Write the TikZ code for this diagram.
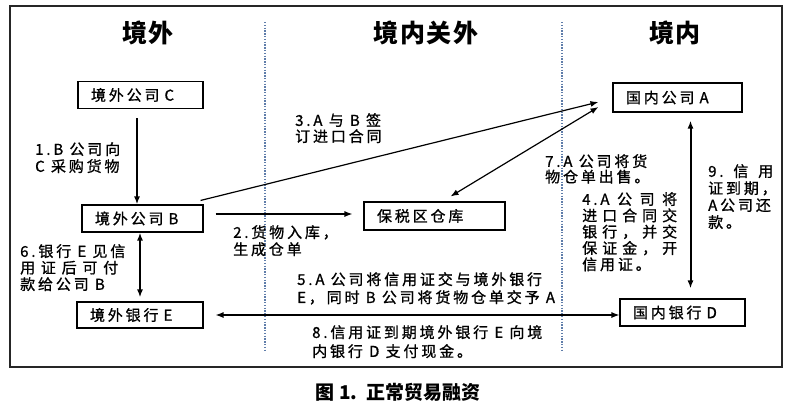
\documentclass[tikz,border=0pt]{standalone}
\usepackage{fontspec}
\setmainfont[LetterSpace=19,FakeBold=1]{Noto Sans CJK SC}
\newfontfamily\hdfont[LetterSpace=6]{Noto Sans CJK SC}
\newfontfamily\capfont{Noto Sans CJK SC}
\usetikzlibrary{arrows.meta}
\newcommand\hf{\hfill}
\begin{document}
\begin{tikzpicture}[x=1pt,y=-1pt,
  frame/.style={line width=1.5pt,draw=black!85},
  divider/.style={line width=2.2pt,draw={rgb,255:red,95;green,125;blue,170},dash pattern=on 1.3pt off 1.5pt},
  hdr/.style={font=\hdfont\fontsize{25}{28}\selectfont\bfseries,inner sep=0pt},
  box/.style={draw,line width=1.1pt,align=left,inner xsep=13pt,inner ysep=0pt,minimum height=27pt,text width=#1,font=\fontsize{15}{17}\selectfont},
  lbl/.style={align=left,inner sep=0pt,anchor=north west,font=\fontsize{15}{17}\selectfont},
  arr/.style={line width=1.2pt,-{Latex[length=8pt,width=6pt]}},
  darr/.style={line width=1.2pt,{Latex[length=8pt,width=6pt]}-{Latex[length=8pt,width=6pt]}},
  bold/.style={line width=2pt}]
\useasboundingbox (0,0) rectangle (793,408);
% frame and dividers
\draw[frame] (10,6) rectangle (782,367);
\draw[divider] (265,22) -- (265,352);
\draw[divider] (562,22) -- (562,352);
% headers
\node[hdr] (h1) at (148,33) {境外};
\node[hdr] (h2) at (426,33) {境内关外};
\node[hdr] (h3) at (675,33) {境内};
% boxes
\node[box=99pt]  (C) at (140.5,95) {境外公司 C};
\node[box=103pt,minimum height=29pt] (A) at (677.5,97.5) {国内公司 A};
\node[box=95pt]  (B) at (142.5,218.5) {境外公司 B};
\node[box=115pt,minimum height=28pt] (W) at (434.5,216) {保税区仓库};
\node[box=100pt,minimum height=26pt]  (E) at (140,315) {境外银行 E};
\node[box=99pt]  (D) at (682.5,312.5) {国内银行 D};
% connectors
\draw[arr,bold] ([xshift=-3.5pt,yshift=-9pt]C.south) -- ([xshift=-3.5pt]C.south |- B.north);
\draw[darr,bold] ([xshift=-2.5pt]B.south) -- ([xshift=-2.5pt,yshift=4pt]B.south |- E.north);
\draw[arr] ([xshift=12pt,yshift=4.5pt]B.east) -- ([xshift=-11pt,yshift=2pt]W.west);
\draw[arr] ([xshift=-3pt,yshift=4pt]B.north east) -- ([xshift=-14pt,yshift=-4.5pt]A.west);
\draw[darr] ([xshift=16pt,yshift=5pt]W.north) -- ([xshift=-14pt,yshift=-9.5pt]A.west);
\coordinate (ad1) at ([xshift=13pt,yshift=-8pt]A.south);
\draw[darr,bold] (ad1) -- ([yshift=10pt]ad1 |- D.north);
\draw[darr] ([xshift=12pt]E.east) -- (E.east -| D.west);
% labels
\node[lbl] (l1) at (35,142) {1.B 公司向\\C 采购货物};
\node[lbl,font=\fontsize{15}{16}\selectfont] (l3) at (295,113) {3.A 与 B 签\\订进口合同};
\node[lbl] (l2) at (233,225) {2.货物入库，\\生成仓单};
\node[lbl,font=\fontsize{15}{16.5}\selectfont] (l6) at (20,244) {6.银行 E 见信\\\makebox[98pt][l]{用\hf 证\hf 后\hf 可\hf 付}\\款给公司 B};
\node[lbl,font=\fontsize{15}{18}\selectfont] (l5) at (297,272) {5.A 公司将信用证交与境外银行\\E，同时 B 公司将货物仓单交予 A};
\node[lbl,font=\fontsize{15}{19}\selectfont] (l8) at (312,325) {8.信用证到期境外银行 E 向境\\内银行 D 支付现金。};
\node[lbl,font=\fontsize{15}{15.5}\selectfont] (l7) at (545,154) {7.A 公司将货\\物仓单出售。};
\node[lbl,font=\fontsize{15}{16.3}\selectfont] (l4) at (582,192) {\makebox[95pt][l]{4.A\hf 公\hf 司\hf 将}\\\makebox[95pt][l]{进\hf 口\hf 合\hf 同\hf 交}\\\makebox[95pt][l]{银\hf 行\hf ，\hf 并\hf 交}\\\makebox[95pt][l]{保\hf 证\hf 金\hf ，\hf 开}\\信用证。};
\node[lbl] (l9) at (708,164) {\makebox[65pt][l]{9.\hf 信\hf 用}\\证到期，\\A公司还\\款。};
% caption
\node[inner sep=0pt,font=\capfont\fontsize{19}{21}\selectfont\bfseries] (cap) at (398,392) {图 1.\ \ 正常贸易融资};
\end{tikzpicture}
\end{document}
